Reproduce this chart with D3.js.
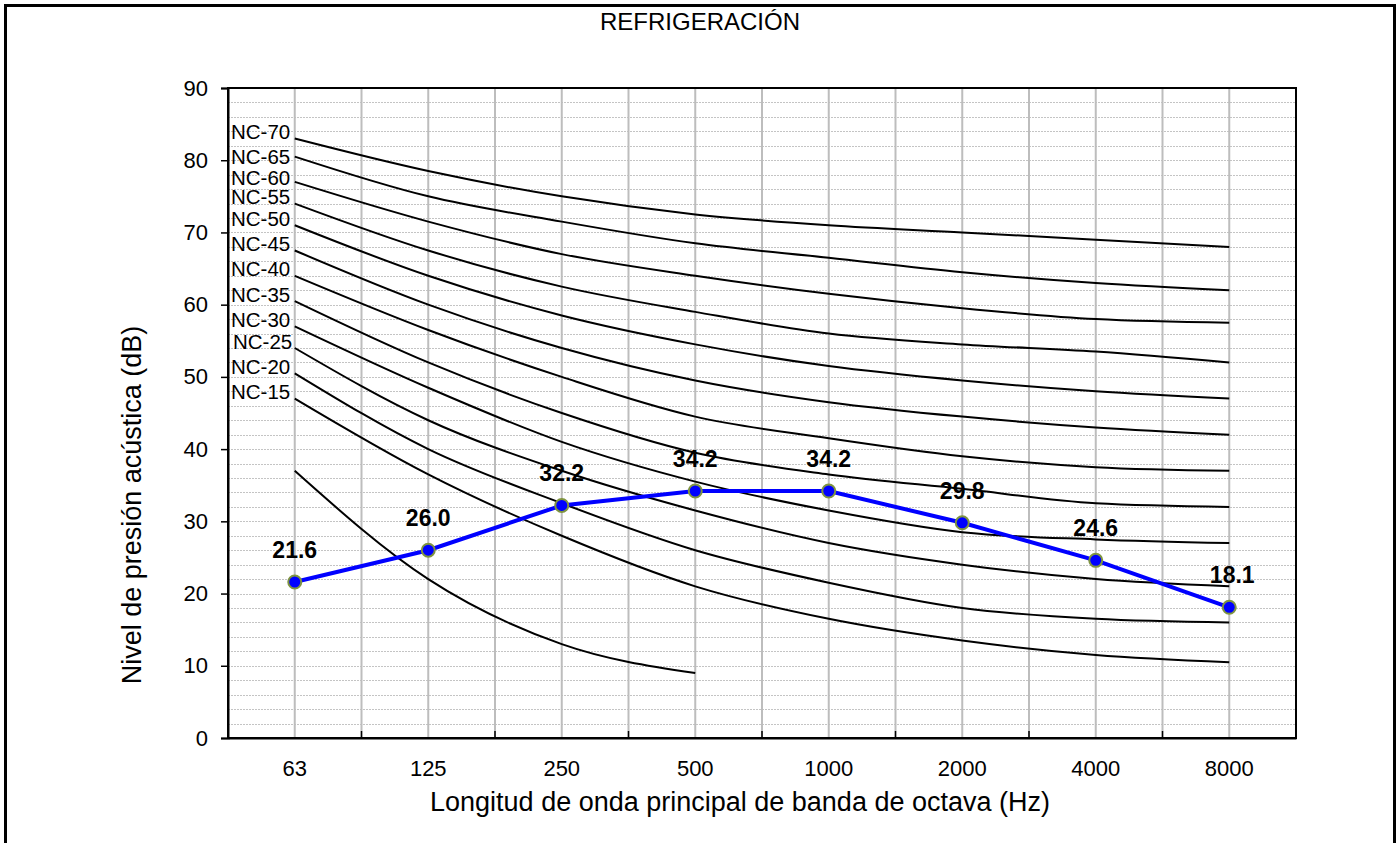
<!DOCTYPE html>
<html>
<head>
<meta charset="utf-8">
<script src="https://cdn.jsdelivr.net/npm/d3@7"></script>
<style>
  html, body { margin: 0; padding: 0; background: #fff; }
  svg { display: block; font-family: "Liberation Sans", Arial, sans-serif; }
</style>
</head>
<body>
<svg id="chart" width="1399" height="843"></svg>
<script>
// Octave band centre frequencies (Hz)
const bands = ["63", "125", "250", "500", "1000", "2000", "4000", "8000"];

// Noise Criterion reference curves (dB)
const nc70 = [83, 78.5, 75, 72.5, 71, 70, 69, 68];
const nc65 = [80.5, 75, 71.5, 68.5, 66.5, 64.5, 63, 62];
const nc60 = [77, 71.5, 67, 64, 61.5, 59.5, 58, 57.5];
const nc55 = [74, 67.5, 62.5, 59, 56, 54.5, 53.5, 52];
const nc50 = [71, 64, 58.5, 54.5, 51.5, 49.5, 48, 47];
const nc45 = [67.5, 60, 54, 49.5, 46.5, 44.5, 43, 42];
const nc40 = [64, 56.5, 50, 44.5, 41.5, 39, 37.5, 37];
const nc35 = [60.5, 52, 45, 39.5, 36.5, 34.5, 32.5, 32];
const nc30 = [57, 48.5, 41, 35.5, 31.5, 28.5, 27.5, 27];
const nc25 = [54, 44, 37, 31.5, 27, 24, 22, 21];
const nc20 = [50.5, 40, 32.5, 26, 21.5, 18, 16.5, 16];
const nc15 = [47, 36.5, 28, 21, 16.5, 13.5, 11.5, 10.5];
// Unlabelled lowest curve, defined only up to 500 Hz
const ncLow = [37, 22, 13, 9];

const curveNames = ["NC-70", "NC-65", "NC-60", "NC-55", "NC-50", "NC-45",
                    "NC-40", "NC-35", "NC-30", "NC-25", "NC-20", "NC-15"];
const curveValues = [nc70, nc65, nc60, nc55, nc50, nc45, nc40, nc35, nc30, nc25, nc20, nc15];

// Measured sound pressure level for the refrigeration equipment (dB)
const measured = [21.6, 26.0, 32.2, 34.2, 34.2, 29.8, 24.6, 18.1];

const yTicks = [0, 10, 20, 30, 40, 50, 60, 70, 80, 90];

const svg = d3.select("#chart");
const margin = { left: 228, right: 1296, top: 88, bottom: 738 };
const FONT = "'Liberation Sans', Arial, sans-serif";

// Outer frame
svg.append("rect")
  .attr("x", 5.5).attr("y", 5.5)
  .attr("width", 1389).attr("height", 900)
  .attr("fill", "none").attr("stroke", "#000").attr("stroke-width", 3);

const x = d3.scaleBand().domain(bands).range([margin.left, margin.right]).paddingInner(0).paddingOuter(0);
const y = d3.scaleLinear().domain([0, 90]).range([margin.bottom, margin.top]);
const cx = d => x(d) + x.bandwidth() / 2;

// Horizontal dotted grid every 2 dB
const minor = d3.range(2, 90, 2);
svg.append("g").selectAll("line").data(minor).join("line")
  .attr("x1", margin.left).attr("x2", margin.right)
  .attr("y1", d => Math.round(y(d)) + 0.5).attr("y2", d => Math.round(y(d)) + 0.5)
  .attr("stroke", "#c4c4c4").attr("stroke-width", 1).attr("stroke-dasharray", "2,1");

// Vertical grid at band centres and band edges
const vLines = [];
bands.forEach((b, i) => { vLines.push(cx(b)); if (i > 0) vLines.push(x(b)); });
svg.append("g").selectAll("line").data(vLines).join("line")
  .attr("x1", d => d).attr("x2", d => d)
  .attr("y1", margin.top).attr("y2", margin.bottom)
  .attr("stroke", "#bdbdbd").attr("stroke-width", 2);

// Plot frame
svg.append("rect")
  .attr("x", margin.left).attr("y", margin.top)
  .attr("width", margin.right - margin.left).attr("height", margin.bottom - margin.top)
  .attr("fill", "none").attr("stroke", "#000").attr("stroke-width", 2);

// Y axis
const yAxis = svg.append("g")
  .attr("transform", `translate(${margin.left},0)`)
  .call(d3.axisLeft(y).tickValues(yTicks).tickSize(7).tickPadding(13));
yAxis.select(".domain").attr("stroke-width", 2);
yAxis.selectAll(".tick line").attr("stroke-width", 1.5);
yAxis.selectAll("text").attr("font-size", 22).attr("fill", "#000").attr("font-family", FONT);

// X axis: labels at band centres, ticks at band edges pointing inward
const xAxis = svg.append("g")
  .attr("transform", `translate(0,${margin.bottom})`)
  .call(d3.axisBottom(x).tickSize(0).tickPadding(22));
xAxis.select(".domain").attr("stroke-width", 2);
xAxis.selectAll("text").attr("font-size", 22).attr("fill", "#000").attr("font-family", FONT);
svg.append("g").selectAll("line").data(bands.slice(1)).join("line")
  .attr("x1", d => x(d)).attr("x2", d => x(d))
  .attr("y1", margin.bottom).attr("y2", margin.bottom - 7)
  .attr("stroke", "#000").attr("stroke-width", 1.5);

// NC curves
const ncLine = d3.line()
  .x((d, i) => cx(bands[i]))
  .y(d => y(d))
  .curve(d3.curveMonotoneX);

svg.append("g").selectAll("path").data(curveValues.concat([ncLow])).join("path")
  .attr("d", d => ncLine(d))
  .attr("fill", "none").attr("stroke", "#000").attr("stroke-width", 2);

// NC curve labels beside the 63 Hz start of each curve
// (NC-65 sits level with its line, NC-60 slightly lower, NC-25 nudged right)
const labelLift = { "NC-65": 0, "NC-60": 4 };
svg.append("g").selectAll("text").data(curveNames).join("text")
  .attr("x", d => d === "NC-25" ? 233 : 231)
  .attr("y", (d, i) => y(curveValues[i][0]) - (d in labelLift ? labelLift[d] : 7))
  .attr("dominant-baseline", "central")
  .attr("font-size", 20.5).attr("fill", "#000")
  .text(d => d);

// Measured spectrum
const mLine = d3.line().x((d, i) => cx(bands[i])).y(d => y(d));
svg.append("path").attr("d", mLine(measured))
  .attr("fill", "none").attr("stroke", "#0000ff").attr("stroke-width", 4);

svg.append("g").selectAll("circle").data(measured).join("circle")
  .attr("cx", (d, i) => cx(bands[i])).attr("cy", d => y(d))
  .attr("r", 6.5)
  .attr("fill", "#0000ff").attr("stroke", "#7f9440").attr("stroke-width", 2);

svg.append("g").selectAll("text").data(measured).join("text")
  .attr("x", (d, i) => cx(bands[i]) + (i === measured.length - 1 ? 3 : 0))
  .attr("y", d => y(d) - 24)
  .attr("text-anchor", "middle")
  .attr("font-size", 23).attr("font-weight", "bold").attr("fill", "#000")
  .text(d => d.toFixed(1));

// Titles
svg.append("text").attr("x", 700).attr("y", 30)
  .attr("text-anchor", "middle").attr("font-size", 24).attr("fill", "#000")
  .text("REFRIGERACIÓN");

svg.append("text").attr("x", 740).attr("y", 811)
  .attr("text-anchor", "middle").attr("font-size", 27).attr("fill", "#000")
  .text("Longitud de onda principal de banda de octava (Hz)");

svg.append("text")
  .attr("transform", "translate(141,505) rotate(-90)")
  .attr("text-anchor", "middle").attr("font-size", 27).attr("fill", "#000")
  .text("Nivel de presión acústica (dB)");
</script>
</body>
</html>
